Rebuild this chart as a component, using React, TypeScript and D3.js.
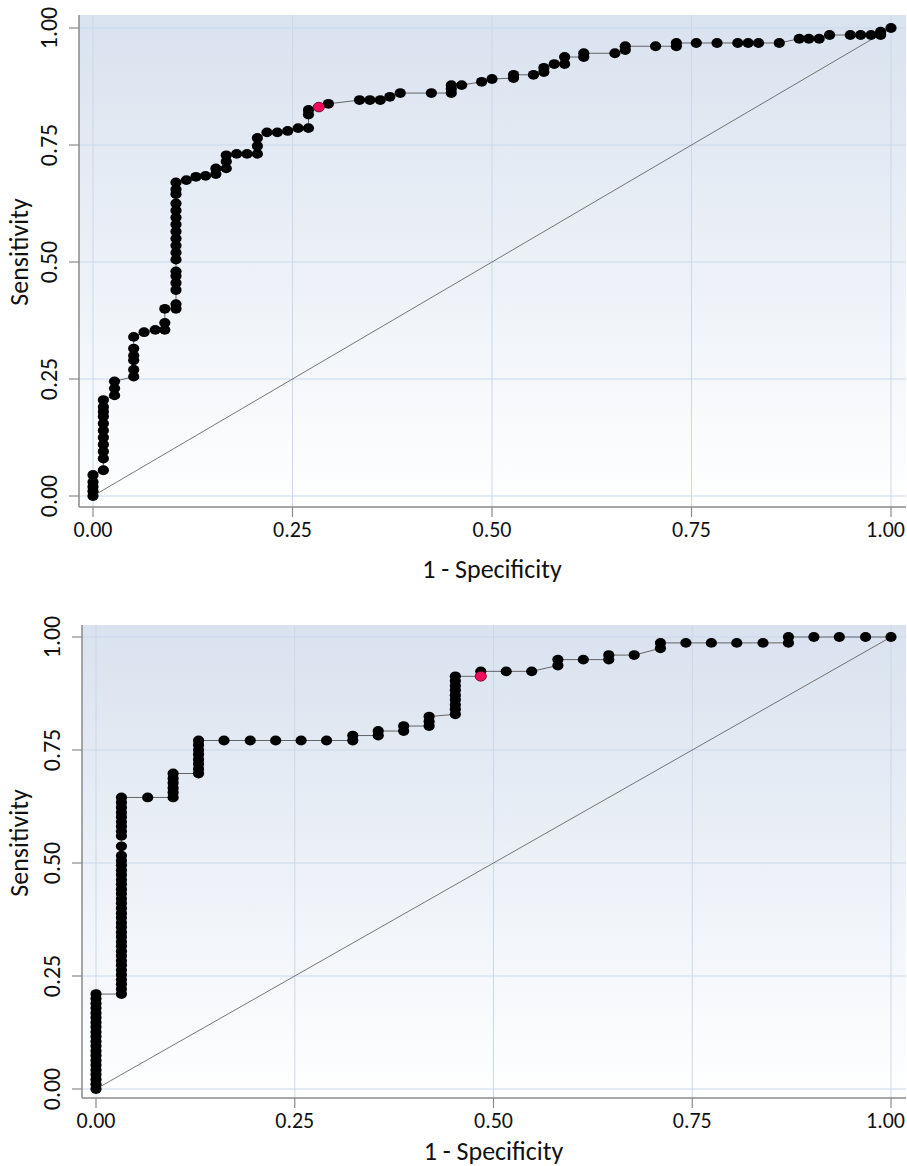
import * as d3 from "d3";

// ROC points as [1 - specificity, sensitivity]
const topRoc: [number, number][] = [
  [0, 0], [0, 0.01], [0, 0.02], [0, 0.03], [0, 0.045],
  [0.013, 0.055], [0.013, 0.08], [0.013, 0.095], [0.013, 0.11], [0.013, 0.125], [0.013, 0.14],
  [0.013, 0.155], [0.013, 0.17], [0.013, 0.18], [0.013, 0.19], [0.013, 0.205],
  [0.027, 0.215], [0.027, 0.23], [0.027, 0.245],
  [0.051, 0.255], [0.051, 0.27], [0.051, 0.29], [0.051, 0.3], [0.051, 0.315], [0.051, 0.34],
  [0.064, 0.35], [0.078, 0.355],
  [0.09, 0.355], [0.09, 0.37], [0.09, 0.4],
  [0.104, 0.4], [0.104, 0.41], [0.104, 0.44], [0.104, 0.455], [0.104, 0.47], [0.104, 0.48],
  [0.104, 0.505], [0.104, 0.52], [0.104, 0.535], [0.104, 0.55], [0.104, 0.565], [0.104, 0.58],
  [0.104, 0.595], [0.104, 0.61], [0.104, 0.625], [0.104, 0.645], [0.104, 0.655], [0.104, 0.67],
  [0.117, 0.675], [0.129, 0.682], [0.141, 0.684],
  [0.154, 0.688], [0.154, 0.7],
  [0.167, 0.7], [0.167, 0.715], [0.167, 0.728],
  [0.18, 0.731], [0.193, 0.731],
  [0.206, 0.731], [0.206, 0.748], [0.206, 0.765],
  [0.218, 0.777], [0.231, 0.777], [0.244, 0.78], [0.257, 0.786],
  [0.27, 0.786], [0.27, 0.815], [0.27, 0.825],
  [0.283, 0.831], [0.295, 0.838],
  [0.334, 0.846], [0.347, 0.846], [0.36, 0.846], [0.372, 0.853], [0.385, 0.861], [0.424, 0.861],
  [0.449, 0.861], [0.449, 0.87], [0.449, 0.878], [0.462, 0.878],
  [0.487, 0.885], [0.5, 0.891], [0.527, 0.893], [0.527, 0.9], [0.552, 0.9],
  [0.565, 0.906], [0.565, 0.915], [0.578, 0.923], [0.591, 0.923], [0.591, 0.938],
  [0.615, 0.938], [0.615, 0.946], [0.654, 0.946], [0.667, 0.953], [0.667, 0.961],
  [0.705, 0.961], [0.731, 0.961], [0.731, 0.968],
  [0.756, 0.968], [0.782, 0.968], [0.808, 0.968], [0.821, 0.968], [0.834, 0.968], [0.86, 0.968],
  [0.885, 0.977], [0.897, 0.977], [0.91, 0.977],
  [0.923, 0.985], [0.949, 0.985], [0.962, 0.985], [0.975, 0.985], [0.987, 0.985], [0.987, 0.992],
  [1, 1],
];
const topCutoff: [number, number] = [0.283, 0.831];

const bottomRoc: [number, number][] = [
  [0, 0], [0, 0.0105], [0, 0.021], [0, 0.032], [0, 0.042], [0, 0.053], [0, 0.063], [0, 0.074],
  [0, 0.084], [0, 0.095], [0, 0.105], [0, 0.116], [0, 0.126], [0, 0.137], [0, 0.147], [0, 0.158],
  [0, 0.168], [0, 0.179], [0, 0.189], [0, 0.2], [0, 0.21],
  [0.032, 0.21], [0.032, 0.221], [0.032, 0.232], [0.032, 0.242], [0.032, 0.253], [0.032, 0.263],
  [0.032, 0.274], [0.032, 0.284], [0.032, 0.295], [0.032, 0.305], [0.032, 0.316], [0.032, 0.326],
  [0.032, 0.337], [0.032, 0.347], [0.032, 0.358], [0.032, 0.368], [0.032, 0.379], [0.032, 0.389],
  [0.032, 0.4], [0.032, 0.411], [0.032, 0.421], [0.032, 0.432], [0.032, 0.442], [0.032, 0.453],
  [0.032, 0.463], [0.032, 0.474], [0.032, 0.484], [0.032, 0.495], [0.032, 0.505], [0.032, 0.516],
  [0.032, 0.537], [0.032, 0.56], [0.032, 0.57], [0.032, 0.581], [0.032, 0.591], [0.032, 0.602],
  [0.032, 0.612], [0.032, 0.623], [0.032, 0.634], [0.032, 0.645],
  [0.065, 0.645],
  [0.097, 0.645], [0.097, 0.656], [0.097, 0.666], [0.097, 0.677], [0.097, 0.687], [0.097, 0.698],
  [0.129, 0.698], [0.129, 0.708], [0.129, 0.719], [0.129, 0.729], [0.129, 0.74], [0.129, 0.75],
  [0.129, 0.761], [0.129, 0.771],
  [0.161, 0.771], [0.194, 0.771], [0.226, 0.771], [0.258, 0.771], [0.29, 0.771],
  [0.323, 0.771], [0.323, 0.782], [0.355, 0.782], [0.355, 0.792], [0.387, 0.792], [0.387, 0.803],
  [0.419, 0.803], [0.419, 0.813], [0.419, 0.824],
  [0.452, 0.829], [0.452, 0.84], [0.452, 0.85], [0.452, 0.861], [0.452, 0.871], [0.452, 0.882],
  [0.452, 0.892], [0.452, 0.903], [0.452, 0.913],
  [0.484, 0.913], [0.484, 0.924], [0.516, 0.924], [0.548, 0.924],
  [0.581, 0.937], [0.581, 0.95], [0.613, 0.95], [0.645, 0.95], [0.645, 0.96], [0.677, 0.96],
  [0.71, 0.975], [0.71, 0.987], [0.742, 0.987], [0.774, 0.987], [0.806, 0.987], [0.839, 0.987],
  [0.871, 0.987], [0.871, 1], [0.903, 1], [0.935, 1], [0.968, 1], [1, 1],
];
const bottomCutoff: [number, number] = [0.484, 0.913];

const ticks = [0, 0.25, 0.5, 0.75, 1];
const tickLabels = ["0.00", "0.25", "0.50", "0.75", "1.00"];

const font = "Carlito, 'Liberation Sans Narrow', 'DejaVu Sans Condensed', sans-serif";

type Frame = {
  bgLeft: number; bgTop: number; bgRight: number; bgBottom: number;
  x0: number; x1: number; y0: number; y1: number;
  titleY: number; sensY: number;
};

const topFrame: Frame = {
  bgLeft: 79, bgTop: 15, bgRight: 906, bgBottom: 507,
  x0: 93, x1: 891, y0: 496, y1: 28, titleY: 578, sensY: 252,
};
const bottomFrame: Frame = {
  bgLeft: 82, bgTop: 625, bgRight: 906, bgBottom: 1098,
  x0: 96, x1: 891, y0: 1089, y1: 637, titleY: 1160, sensY: 843,
};

const RocPanel = ({ id, data, cutoff, f }: { id: string; data: [number, number][]; cutoff: [number, number]; f: Frame }) => {
  const x = d3.scaleLinear().domain([0, 1]).range([f.x0, f.x1]);
  const y = d3.scaleLinear().domain([0, 1]).range([f.y0, f.y1]);
  const line = d3.line<[number, number]>().x(d => x(d[0])).y(d => y(d[1]));
  const sorted = [...data].sort((a, b) => a[0] - b[0] || a[1] - b[1]);

  return (
    <g>
      <defs>
        <linearGradient id={id} x1="0" y1="0" x2="0" y2="1">
          <stop offset="0%" stopColor="#d9e2ef" />
          <stop offset="100%" stopColor="#ffffff" />
        </linearGradient>
      </defs>
      <rect x={f.bgLeft} y={f.bgTop} width={f.bgRight - f.bgLeft} height={f.bgBottom - f.bgTop} fill={`url(#${id})`} />
      {ticks.map(t => (
        <g key={t}>
          <line x1={x(t)} x2={x(t)} y1={f.bgTop} y2={f.bgBottom} stroke="#c9d8ec" strokeWidth={1} />
          <line x1={f.bgLeft} x2={f.bgRight} y1={y(t)} y2={y(t)} stroke="#c9d8ec" strokeWidth={1} />
        </g>
      ))}
      {/* reference diagonal */}
      <line x1={x(0)} y1={y(0)} x2={x(1)} y2={y(1)} stroke="#555" strokeWidth={0.8} />
      <path d={line(sorted) ?? ""} fill="none" stroke="#555" strokeWidth={0.9} />
      {sorted.map((d, i) => (
        <ellipse key={i} cx={x(d[0])} cy={y(d[1])} rx={5.6} ry={4.9} fill="#000" />
      ))}
      <ellipse cx={x(cutoff[0])} cy={y(cutoff[1])} rx={5.6} ry={4.9} fill="#f20a5c" stroke="#5a0020" strokeWidth={0.6} />

      {/* axes */}
      <line x1={f.bgLeft} x2={f.bgLeft} y1={f.bgTop} y2={f.bgBottom} stroke="#8a8a8a" strokeWidth={1.5} />
      <line x1={f.bgLeft} x2={f.bgRight} y1={f.bgBottom} y2={f.bgBottom} stroke="#8a8a8a" strokeWidth={1.5} />
      {ticks.map((t, i) => (
        <g key={"t" + t} fontFamily={font} fill="#111">
          <line x1={x(t)} x2={x(t)} y1={f.bgBottom} y2={f.bgBottom + 10} stroke="#8a8a8a" strokeWidth={1.2} />
          <line x1={f.bgLeft - 10} x2={f.bgLeft} y1={y(t)} y2={y(t)} stroke="#8a8a8a" strokeWidth={1.2} />
          <text
            x={i === ticks.length - 1 ? 905 : x(t)}
            y={f.bgBottom + 30}
            textAnchor={i === ticks.length - 1 ? "end" : "middle"}
            fontSize={22}
          >{tickLabels[i]}</text>
          <text transform={`translate(${f.bgLeft - 22},${y(t)}) rotate(-90)`} textAnchor="middle" fontSize={24}>{tickLabels[i]}</text>
        </g>
      ))}
      <text x={(f.x0 + f.x1) / 2} y={f.titleY} textAnchor="middle" fontFamily={font} fontSize={26} fill="#111">1 - Specificity</text>
      <text transform={`translate(28,${f.sensY}) rotate(-90)`} textAnchor="middle" fontFamily={font} fontSize={26} fill="#111">Sensitivity</text>
    </g>
  );
};

export default function App() {
  return (
    <svg width={907} height={1166} style={{ position: "absolute", left: 0, top: 0, background: "#fff" }}>
      <RocPanel id="bgTop" data={topRoc} cutoff={topCutoff} f={topFrame} />
      <RocPanel id="bgBottom" data={bottomRoc} cutoff={bottomCutoff} f={bottomFrame} />
    </svg>
  );
}
